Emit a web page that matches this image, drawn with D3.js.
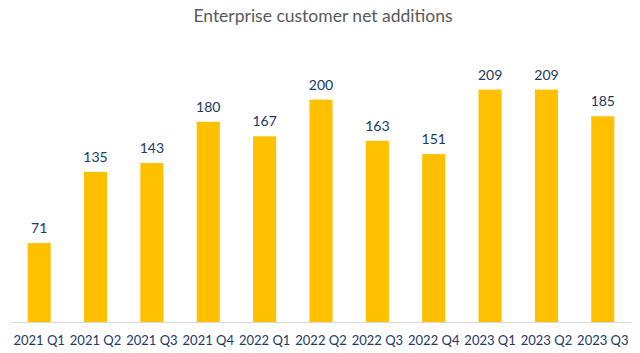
<!DOCTYPE html>
<html>
<head>
<meta charset="utf-8">
<script src="https://cdn.jsdelivr.net/npm/d3@7"></script>
<style>
  body { margin: 0; background: #fff; }
  svg text { font-family: Lato, "Open Sans", sans-serif; }
</style>
</head>
<body>
<div id="chart"></div>
<script>
// data
const quarters = ["2021 Q1", "2021 Q2", "2021 Q3", "2021 Q4", "2022 Q1", "2022 Q2",
                  "2022 Q3", "2022 Q4", "2023 Q1", "2023 Q2", "2023 Q3"];
const additions = [71, 135, 143, 180, 167, 200, 163, 151, 209, 209, 185];

const width = 640, height = 353;
const margin = {top: 44, right: 9, bottom: 31, left: 11};

const svg = d3.select("#chart")
  .append("svg")
  .attr("width", width)
  .attr("height", height);

// title
svg.append("text")
  .attr("x", width / 2 + 3)
  .attr("y", 22)
  .attr("text-anchor", "middle")
  .attr("fill", "#595959")
  .attr("font-size", "17.5px")
  .text("Enterprise customer net additions");

const x = d3.scaleBand()
  .domain(quarters)
  .range([margin.left, width - margin.right])
  .paddingInner(0.59)
  .paddingOuter(0.295);

const y = d3.scaleLinear()
  .domain([0, 250])
  .range([height - margin.bottom, margin.top]);

// bars
svg.selectAll("rect.bar")
  .data(additions)
  .join("rect")
    .attr("class", "bar")
    .attr("x", (d, i) => x(quarters[i]))
    .attr("y", d => y(d))
    .attr("width", x.bandwidth())
    .attr("height", d => y(0) - y(d))
    .attr("fill", "#FFC000");

// value labels
svg.selectAll("text.val")
  .data(additions)
  .join("text")
    .attr("class", "val")
    .attr("x", (d, i) => x(quarters[i]) + x.bandwidth() / 2)
    .attr("y", d => y(d) - 10)
    .attr("text-anchor", "middle")
    .attr("fill", "#203864")
    .attr("font-size", "14px")
    .text(d => d);

// x axis
const xAxis = svg.append("g")
  .attr("transform", `translate(0, ${y(0)})`)
  .call(d3.axisBottom(x).tickSize(0).tickPadding(14));
xAxis.select(".domain").attr("stroke", "#D9D9D9");
xAxis.selectAll(".tick text")
  .attr("fill", "#203864")
  .attr("font-size", "13px")
  .style("font-family", "Lato, 'Open Sans', sans-serif");
</script>
</body>
</html>
